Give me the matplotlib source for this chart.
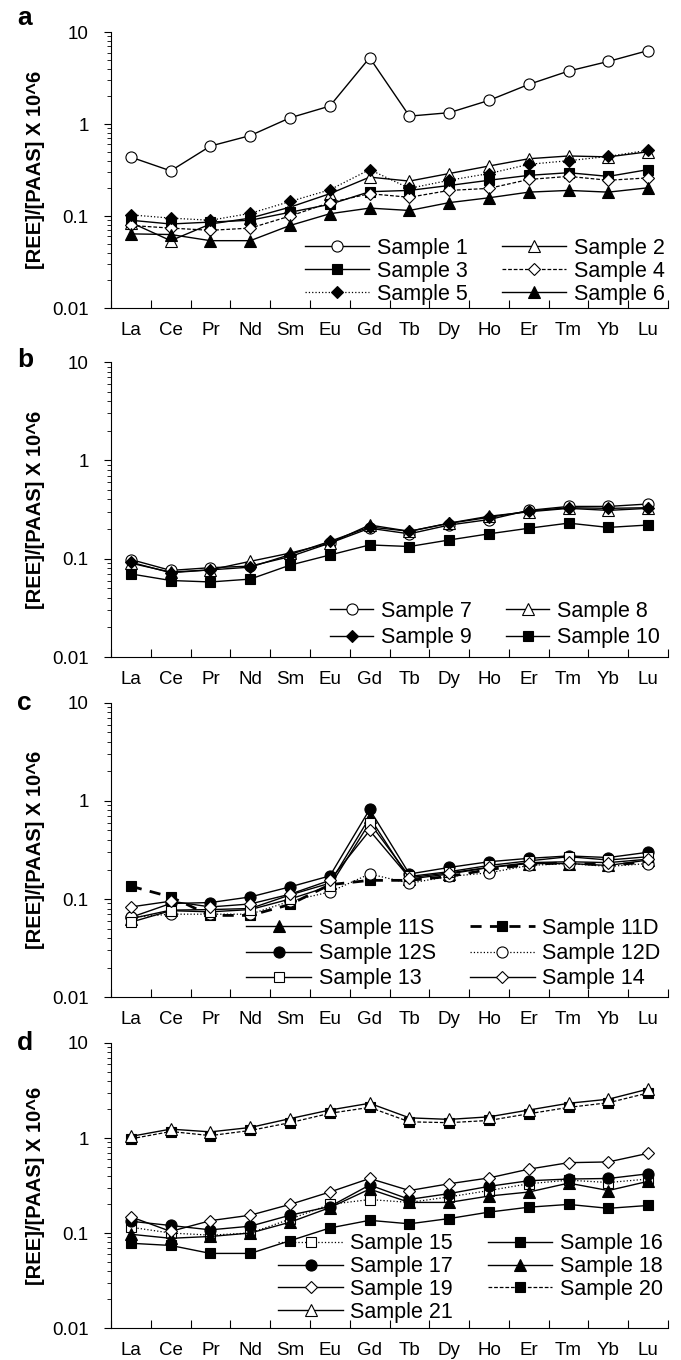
import numpy as np
import matplotlib.pyplot as plt
from matplotlib.ticker import LogLocator, FixedLocator, FixedFormatter, NullFormatter

plt.rcParams['font.family'] = ['Liberation Sans', 'DejaVu Sans']

ree = ['La', 'Ce', 'Pr', 'Nd', 'Sm', 'Eu', 'Gd', 'Tb', 'Dy', 'Ho', 'Er', 'Tm', 'Yb', 'Lu']

# panel a
s1 = [0.437, 0.31, 0.577, 0.75, 1.17, 1.57, 5.26, 1.22, 1.33, 1.81, 2.7, 3.77, 4.8, 6.3]
s2 = [0.085, 0.054, 0.082, 0.095, 0.125, 0.175, 0.265, 0.24, 0.29, 0.35, 0.42, 0.45, 0.44, 0.50]
s3 = [0.09, 0.082, 0.086, 0.09, 0.11, 0.134, 0.184, 0.19, 0.215, 0.245, 0.277, 0.296, 0.27, 0.32]
s4 = [0.079, 0.074, 0.07, 0.074, 0.1, 0.14, 0.175, 0.16, 0.19, 0.2, 0.25, 0.27, 0.245, 0.26]
s5 = [0.103, 0.095, 0.09, 0.107, 0.144, 0.193, 0.32, 0.2, 0.245, 0.29, 0.365, 0.40, 0.445, 0.52]
s6 = [0.064, 0.063, 0.054, 0.054, 0.079, 0.106, 0.122, 0.115, 0.14, 0.158, 0.182, 0.19, 0.182, 0.203]

# panel b
s7 = [0.098, 0.076, 0.081, 0.084, 0.105, 0.144, 0.204, 0.179, 0.22, 0.25, 0.31, 0.34, 0.34, 0.36]
s8 = [0.09, 0.073, 0.077, 0.094, 0.114, 0.144, 0.22, 0.19, 0.23, 0.27, 0.30, 0.325, 0.31, 0.325]
s9 = [0.092, 0.072, 0.077, 0.082, 0.11, 0.15, 0.21, 0.19, 0.229, 0.263, 0.305, 0.33, 0.325, 0.33]
s10 = [0.07, 0.06, 0.058, 0.062, 0.086, 0.109, 0.138, 0.133, 0.155, 0.179, 0.204, 0.23, 0.208, 0.22]

# panel c
s11s = [0.063, 0.077, 0.078, 0.08, 0.11, 0.145, 0.68, 0.16, 0.18, 0.21, 0.23, 0.23, 0.22, 0.25]
s11d = [0.135, 0.105, 0.068, 0.068, 0.088, 0.14, 0.155, 0.155, 0.17, 0.2, 0.225, 0.235, 0.22, 0.24]
s12s = [0.065, 0.09, 0.092, 0.105, 0.133, 0.172, 0.82, 0.18, 0.21, 0.24, 0.26, 0.275, 0.265, 0.30]
s12d = [0.065, 0.07, 0.07, 0.07, 0.095, 0.118, 0.18, 0.145, 0.17, 0.185, 0.22, 0.23, 0.215, 0.23]
s13 = [0.058, 0.076, 0.074, 0.078, 0.1, 0.135, 0.6, 0.17, 0.19, 0.22, 0.245, 0.27, 0.25, 0.27]
s14 = [0.083, 0.095, 0.083, 0.089, 0.112, 0.155, 0.5, 0.165, 0.185, 0.21, 0.235, 0.24, 0.235, 0.255]

# panel d
s15 = [0.115, 0.10, 0.095, 0.1, 0.14, 0.2, 0.225, 0.21, 0.24, 0.28, 0.33, 0.36, 0.34, 0.37]
s16 = [0.078, 0.074, 0.061, 0.061, 0.083, 0.113, 0.136, 0.125, 0.142, 0.166, 0.187, 0.2, 0.182, 0.195]
s17 = [0.133, 0.12, 0.108, 0.118, 0.154, 0.19, 0.32, 0.226, 0.26, 0.31, 0.355, 0.37, 0.375, 0.42]
s18 = [0.097, 0.088, 0.092, 0.1, 0.13, 0.185, 0.29, 0.21, 0.21, 0.245, 0.27, 0.335, 0.28, 0.35]
s19 = [0.148, 0.104, 0.135, 0.154, 0.2, 0.27, 0.375, 0.28, 0.33, 0.38, 0.47, 0.55, 0.56, 0.69]
s20 = [0.98, 1.17, 1.06, 1.2, 1.45, 1.82, 2.1, 1.48, 1.45, 1.53, 1.8, 2.1, 2.35, 2.98]
s21 = [1.04, 1.24, 1.16, 1.29, 1.6, 1.97, 2.32, 1.63, 1.57, 1.67, 1.97, 2.32, 2.56, 3.27]

# (label, values, marker, filled, linestyle, linewidth)
panels = [
    ('a', [('Sample 1', s1, 'o', False, '-', 1.0), ('Sample 2', s2, '^', False, '-', 1.0),
           ('Sample 3', s3, 's', True, '-', 1.0), ('Sample 4', s4, 'D', False, (0, (3, 1.5)), 0.9),
           ('Sample 5', s5, 'D', True, ':', 0.9), ('Sample 6', s6, '^', True, '-', 1.0)]),
    ('b', [('Sample 7', s7, 'o', False, '-', 1.0), ('Sample 8', s8, '^', False, '-', 1.0),
           ('Sample 9', s9, 'D', True, '-', 1.0), ('Sample 10', s10, 's', True, '-', 1.0)]),
    ('c', [('Sample 11S', s11s, '^', True, '-', 1.0), ('Sample 11D', s11d, 's', True, (0, (4, 3)), 2.0),
           ('Sample 12S', s12s, 'o', True, '-', 1.0), ('Sample 12D', s12d, 'o', False, ':', 0.9),
           ('Sample 13', s13, 's', False, '-', 1.0), ('Sample 14', s14, 'D', False, '-', 1.0)]),
    ('d', [('Sample 15', s15, 's', False, ':', 0.9), ('Sample 16', s16, 's', True, '-', 1.0),
           ('Sample 17', s17, 'o', True, '-', 1.0), ('Sample 18', s18, '^', True, '-', 1.0),
           ('Sample 19', s19, 'D', False, '-', 1.0), ('Sample 20', s20, 's', True, (0, (3, 1.5)), 0.9),
           ('Sample 21', s21, '^', False, '-', 1.0)]),
]

msize = {'o': 8, 's': 7, '^': 8, 'D': 6}

fig = plt.figure(figsize=(6.81, 13.6), dpi=100)
# [bottom, height] of each panel in figure fraction
boxes = [(0.7735, 0.2029), (0.5169, 0.2169), (0.2669, 0.2162), (0.0235, 0.2096)]
letter_y = [0.987, 0.735, 0.483, 0.233]
leg_opts = [dict(handlelength=3.0, labelspacing=0.1, borderaxespad=0.15),
            dict(handlelength=2.0, labelspacing=0.25, borderaxespad=0.4),
            dict(handlelength=3.0, labelspacing=0.2, borderaxespad=0.35),
            dict(handlelength=3.0, labelspacing=0.08, borderaxespad=0.25)]
x = np.arange(1, len(ree) + 1)

for (letter, series), (bot, h), ly, lo in zip(panels, boxes, letter_y, leg_opts):
    ax = fig.add_axes([0.163, bot, 0.818, h])
    handles = []
    for label, vals, mk, filled, ls, lw in series:
        ln, = ax.plot(x, vals, color='black', linestyle=ls, linewidth=lw, marker=mk,
                      markersize=msize[mk], markerfacecolor='black' if filled else 'white',
                      markeredgecolor='black', markeredgewidth=0.8, label=label)
        handles.append(ln)
    ax.set_yscale('log')
    ax.set_ylim(0.01, 10)
    ax.set_xlim(0.5, len(ree) + 0.5)

    ax.yaxis.set_major_locator(FixedLocator([0.01, 0.1, 1, 10]))
    ax.yaxis.set_major_formatter(FixedFormatter(['0.01', '0.1', '1', '10']))
    ax.yaxis.set_minor_locator(LogLocator(base=10, subs=np.arange(2, 10)))
    ax.yaxis.set_minor_formatter(NullFormatter())
    ax.tick_params(axis='y', which='major', direction='out', length=5, width=0.8, labelsize=13.5, pad=11)
    ax.tick_params(axis='y', which='minor', direction='out', length=3, width=0.6)

    ax.set_xticks(np.arange(0.5, len(ree) + 1, 1.0))
    ax.set_xticklabels([])
    ax.set_xticks(x, minor=True)
    ax.set_xticklabels(ree, minor=True)
    ax.tick_params(axis='x', which='major', direction='in', length=6, width=0.8)
    ax.tick_params(axis='x', which='minor', length=0, labelsize=13.5, pad=10)

    for sp in ['top', 'right']:
        ax.spines[sp].set_visible(False)
    for sp in ['left', 'bottom']:
        ax.spines[sp].set_linewidth(0.8)

    ax.set_ylabel('[REE]/[PAAS] X 10^6', fontsize=14.5, fontweight='bold')
    ax.yaxis.set_label_coords(-0.118, 0.5)

    n = len(handles)
    order = [handles[i] for i in range(0, n, 2)] + [handles[i] for i in range(1, n, 2)]
    ax.legend(handles=order, loc='lower right', bbox_to_anchor=(1.0, 0.0), ncol=2,
              frameon=False, fontsize=15.5, handletextpad=0.35, columnspacing=1.6,
              borderpad=0.0, **lo)

    fig.text(0.025, ly, letter, fontsize=19, fontweight='bold', va='center', ha='left')

fig.savefig('out.png', dpi=100)
